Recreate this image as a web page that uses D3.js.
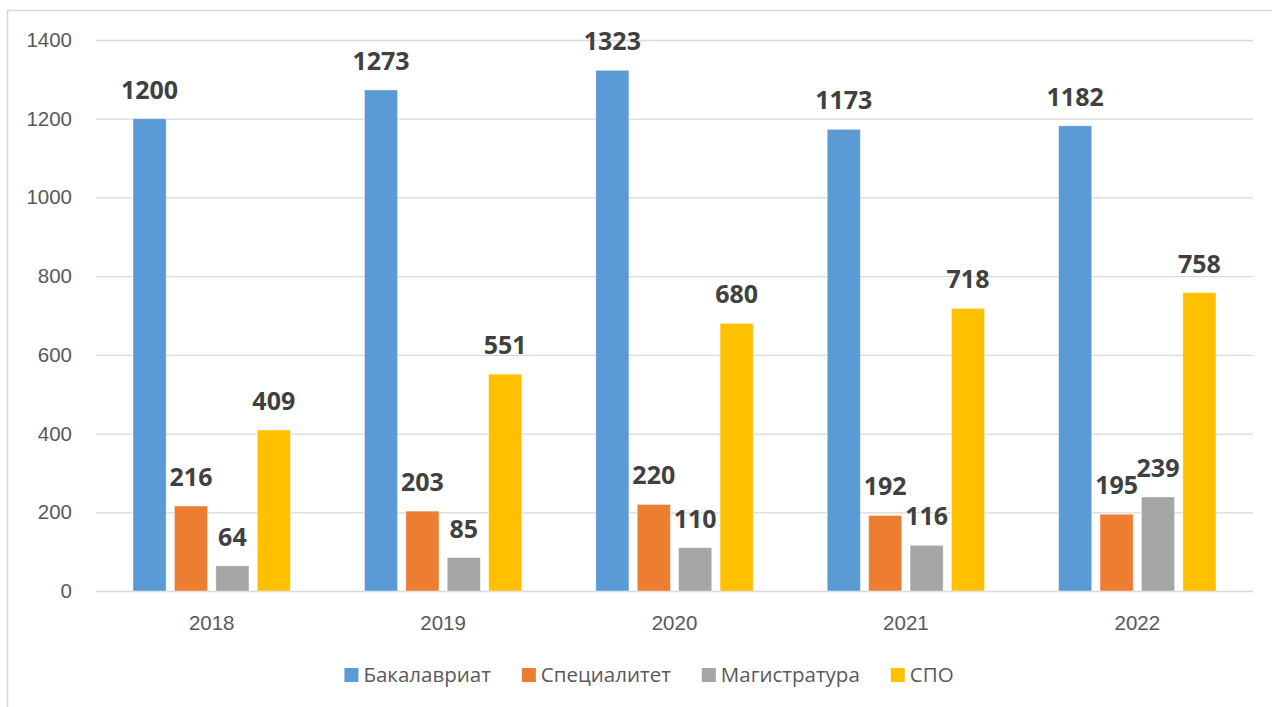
<!DOCTYPE html>
<html>
<head>
<meta charset="utf-8">
<script src="https://cdn.jsdelivr.net/npm/d3@7"></script>
<style>
  body { margin: 0; background: #fff; }
  svg { display: block; font-family: "Open Sans", sans-serif; }
  .grid line { stroke: #d9d9d9; stroke-width: 1.3; }
  .grid .domain, .xax .domain { display: none; }
  .grid text, .xax text { fill: #595959; font-size: 20.5px; }
</style>
</head>
<body>
<div id="chart"></div>
<script>
// data
var years = ["2018", "2019", "2020", "2021", "2022"];
var seriesNames = ["Бакалавриат", "Специалитет", "Магистратура", "СПО"];
var bakalavr = [1200, 1273, 1323, 1173, 1182];
var specialitet = [216, 203, 220, 192, 195];
var magistr = [64, 85, 110, 116, 239];
var spo = [409, 551, 680, 718, 758];
var colors = ["#5b9bd5", "#ed7d31", "#a5a5a5", "#ffc000"];
var yTicks = [0, 200, 400, 600, 800, 1000, 1200, 1400];

var allSeries = [bakalavr, specialitet, magistr, spo];

var W = 1272, H = 707;
var plot = {left: 96, right: 1253, top: 40, bottom: 591};

var svg = d3.select("#chart")
    .append("svg")
    .attr("width", W)
    .attr("height", H);

// outer chart border (runs off the right and bottom edges)
svg.append("rect")
    .attr("x", 7.5)
    .attr("y", 10.5)
    .attr("width", 1400)
    .attr("height", 900)
    .attr("fill", "none")
    .attr("stroke", "#d9d9d9")
    .attr("stroke-width", 1.5);

var x0 = d3.scaleBand()
    .domain(years)
    .range([plot.left, plot.right])
    .padding(0);

var bw = x0.bandwidth();
var x1 = d3.scaleBand()
    .domain(seriesNames)
    .range([bw * 0.16, bw * 0.84])
    .paddingInner(0.2);

var y = d3.scaleLinear()
    .domain([0, 1400])
    .range([plot.bottom, plot.top]);

// gridlines + y labels
svg.append("g")
    .attr("class", "grid")
    .attr("transform", "translate(" + plot.left + ",0)")
    .call(d3.axisLeft(y)
        .tickValues(yTicks)
        .tickSize(-(plot.right - plot.left))
        .tickPadding(24)
        .tickFormat(d3.format("d")));

// x labels
svg.append("g")
    .attr("class", "xax")
    .attr("transform", "translate(0," + plot.bottom + ")")
    .call(d3.axisBottom(x0).tickSize(0).tickPadding(24));

var rows = [];
years.forEach(function (yr, i) {
    seriesNames.forEach(function (s, j) {
        rows.push({year: yr, name: s, value: allSeries[j][i], color: colors[j]});
    });
});

var bars = svg.append("g");

bars.selectAll("rect")
    .data(rows)
    .enter()
    .append("rect")
    .attr("x", function (d) { return x0(d.year) + x1(d.name); })
    .attr("y", function (d) { return y(d.value); })
    .attr("width", x1.bandwidth())
    .attr("height", function (d) { return y(0) - y(d.value); })
    .attr("fill", function (d) { return d.color; })
    .attr("stroke", "#fff")
    .attr("stroke-opacity", 0.5)
    .attr("stroke-width", 0.8);

bars.selectAll("text")
    .data(rows)
    .enter()
    .append("text")
    .attr("x", function (d) { return x0(d.year) + x1(d.name) + x1.bandwidth() / 2; })
    .attr("y", function (d) { return y(d.value) - 20; })
    .attr("text-anchor", "middle")
    .attr("fill", "#404040")
    .attr("font-size", "25px")
    .attr("font-weight", "bold")
    .text(function (d) { return d.value; });

// legend
var legend = svg.append("g");
var items = legend.selectAll("g")
    .data(seriesNames)
    .enter()
    .append("g");

items.append("rect")
    .attr("width", 14)
    .attr("height", 14)
    .attr("y", -14)
    .attr("fill", function (d, i) { return colors[i]; });

items.append("text")
    .attr("x", 19)
    .attr("y", 0)
    .attr("fill", "#595959")
    .attr("font-size", "20.5px")
    .text(function (d) { return d; });

var xpos = 0;
items.each(function () {
    var g = d3.select(this);
    g.attr("transform", "translate(" + xpos + ",0)");
    xpos += 19 + g.select("text").node().getComputedTextLength() + 31;
});
var total = xpos - 31;
legend.attr("transform", "translate(" + (649 - total / 2) + ",682)");
</script>
</body>
</html>
